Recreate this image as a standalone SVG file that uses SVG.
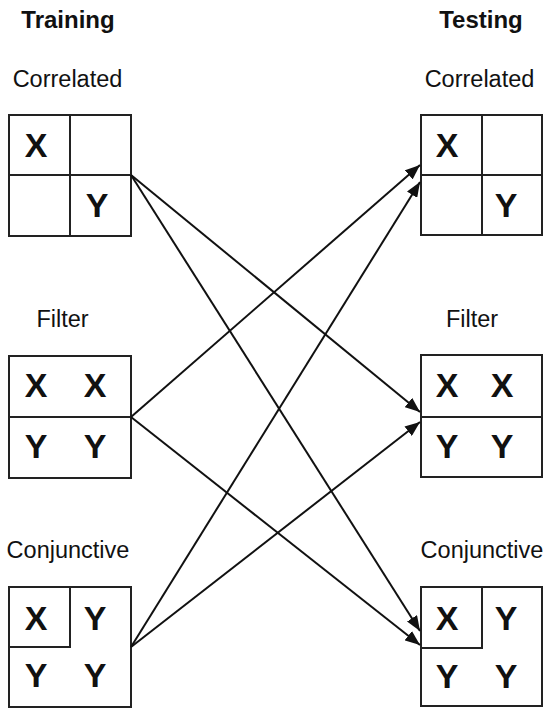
<svg xmlns="http://www.w3.org/2000/svg" width="544" height="708" viewBox="0 0 544 708">
<style>
.bg{fill:#fff}
.box{fill:none;stroke:#222;stroke-width:2}
.head{font-family:"Liberation Sans",Arial,sans-serif;font-weight:bold;font-size:24px;fill:#111;text-anchor:middle}
.lab{font-family:"Liberation Sans",Arial,sans-serif;font-size:23.5px;fill:#111;text-anchor:middle}
.cell{font-family:"Liberation Sans",Arial,sans-serif;font-weight:bold;font-size:34px;fill:#111;text-anchor:middle}
.edge{fill:none;stroke:#111;stroke-width:2}
</style>
<defs>
<marker id="arr" markerUnits="userSpaceOnUse" markerWidth="16" markerHeight="12" refX="15" refY="6" orient="auto">
<path d="M0,0 L15,6 L0,12 z" fill="#111"/>
</marker>
</defs>
<rect class="bg" x="0" y="0" width="544" height="708"/>
<g id="headers">
<text class="head" x="68" y="28">Training</text>
<text class="head" x="481" y="28">Testing</text>
</g>
<g id="train-correlated">
<text class="lab" x="67.5" y="87">Correlated</text>
<rect class="box" x="9" y="115" width="122" height="121"/>
<line class="box" x1="70" y1="115" x2="70" y2="236"/>
<line class="box" x1="9" y1="175" x2="131" y2="175"/>
<text class="cell" x="36" y="157">X</text>
<text class="cell" x="97" y="217">Y</text>
</g>
<g id="train-filter">
<text class="lab" x="62.5" y="327">Filter</text>
<rect class="box" x="9" y="356" width="122" height="122"/>
<line class="box" x1="9" y1="417" x2="131" y2="417"/>
<text class="cell" x="36" y="397">X</text>
<text class="cell" x="95" y="397">X</text>
<text class="cell" x="36" y="458">Y</text>
<text class="cell" x="95" y="458">Y</text>
</g>
<g id="train-conjunctive">
<text class="lab" x="68" y="558">Conjunctive</text>
<rect class="box" x="9" y="587" width="122" height="120"/>
<polyline class="box" points="9,647 70,647 70,587"/>
<text class="cell" x="36" y="630">X</text>
<text class="cell" x="95" y="630">Y</text>
<text class="cell" x="36" y="687">Y</text>
<text class="cell" x="95" y="687">Y</text>
</g>
<g id="test-correlated">
<text class="lab" x="479.5" y="87">Correlated</text>
<rect class="box" x="421" y="115" width="121" height="120"/>
<line class="box" x1="482" y1="115" x2="482" y2="235"/>
<line class="box" x1="421" y1="175" x2="542" y2="175"/>
<text class="cell" x="447" y="157">X</text>
<text class="cell" x="506" y="217">Y</text>
</g>
<g id="test-filter">
<text class="lab" x="472" y="327">Filter</text>
<rect class="box" x="421" y="355" width="121" height="122"/>
<line class="box" x1="421" y1="417" x2="542" y2="417"/>
<text class="cell" x="447" y="397">X</text>
<text class="cell" x="502" y="397">X</text>
<text class="cell" x="447" y="458">Y</text>
<text class="cell" x="502" y="458">Y</text>
</g>
<g id="test-conjunctive">
<text class="lab" x="482" y="558">Conjunctive</text>
<rect class="box" x="421" y="587" width="121" height="119"/>
<polyline class="box" points="421,648 482,648 482,587"/>
<text class="cell" x="447" y="630">X</text>
<text class="cell" x="506" y="630">Y</text>
<text class="cell" x="447" y="688">Y</text>
<text class="cell" x="506" y="688">Y</text>
</g>
<g id="connectors">
<line class="edge" x1="131" y1="175" x2="420" y2="412" marker-end="url(#arr)"/>
<line class="edge" x1="131" y1="175" x2="420" y2="631" marker-end="url(#arr)"/>
<line class="edge" x1="131" y1="417" x2="420" y2="165" marker-end="url(#arr)"/>
<line class="edge" x1="131" y1="417" x2="420" y2="645" marker-end="url(#arr)"/>
<line class="edge" x1="131" y1="647" x2="420" y2="182" marker-end="url(#arr)"/>
<line class="edge" x1="131" y1="647" x2="420" y2="422" marker-end="url(#arr)"/>
</g>
</svg>
